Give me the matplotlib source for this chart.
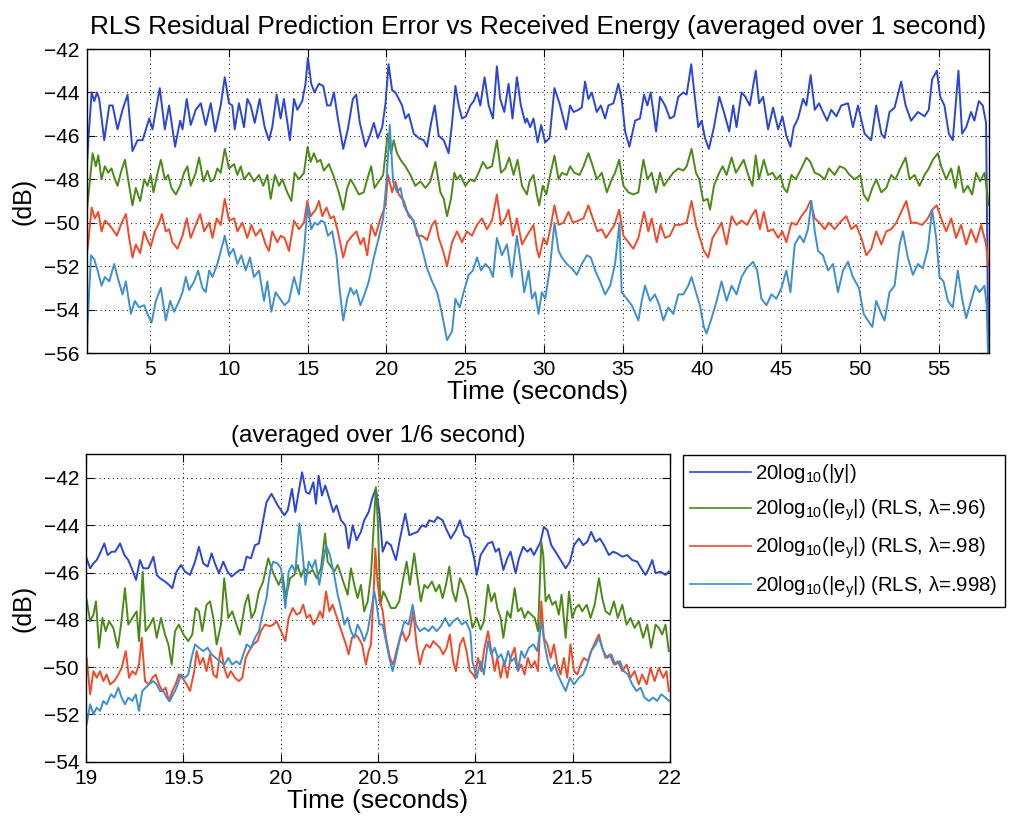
import numpy as np
import matplotlib
matplotlib.use("Agg")
import matplotlib.pyplot as plt

plt.rcParams["font.family"] = ["Liberation Sans", "DejaVu Sans"]
plt.rcParams["mathtext.fontset"] = "custom"
plt.rcParams["mathtext.rm"] = "Liberation Sans"
plt.rcParams["mathtext.it"] = "Liberation Sans:italic"

# ---------------- 1-second averages (time s, level dB) ----------------
top_y = [(1.00,-47.5),(1.10,-46.2),(1.31,-44.0),(1.48,-44.4),(1.65,-44.0),(1.79,-44.3),(2.11,-46.2),(2.43,-44.6),(2.64,-44.6),(2.95,-45.7),(3.27,-44.8),(3.59,-44.1),(3.90,-46.7),(4.22,-46.2),(4.54,-46.2),(4.75,-45.7),(4.96,-45.2),(5.17,-45.7),(5.63,-43.8),(5.95,-45.7),(6.22,-44.6),(6.60,-46.5),(6.92,-45.3),(7.07,-45.7),(7.34,-44.3),(7.59,-45.5),(7.91,-44.8),(8.23,-44.5),(8.54,-45.5),(8.86,-44.5),(9.14,-45.8),(9.49,-44.6),(9.75,-43.3),(10.02,-44.5),(10.23,-44.6),(10.38,-45.7),(10.65,-44.5),(10.97,-45.6),(11.18,-44.3),(11.39,-44.6),(11.65,-45.4),(11.96,-44.3),(12.28,-45.6),(12.55,-46.2),(12.76,-45.6),(13.04,-44.1),(13.29,-45.2),(13.50,-44.3),(13.88,-46.2),(14.14,-44.3),(14.35,-44.8),(14.66,-44.4),(14.87,-43.6),(15.02,-42.4),(15.23,-43.6),(15.44,-44.0),(15.72,-43.6),(15.99,-43.7),(16.24,-44.6),(16.45,-44.6),(16.67,-44.0),(16.92,-45.2),(17.26,-46.6),(17.55,-45.7),(17.87,-44.3),(18.08,-44.1),(18.31,-45.4),(18.67,-46.5),(18.94,-46.0),(19.20,-45.4),(19.45,-46.1),(19.73,-45.6),(19.94,-44.5),(20.13,-42.7),(20.36,-43.9),(20.57,-44.0),(20.78,-44.3),(20.99,-44.6),(21.20,-45.2),(21.41,-45.0),(21.73,-45.9),(22.05,-46.1),(22.36,-46.2),(22.57,-46.5),(22.83,-45.4),(23.06,-44.6),(23.31,-46.0),(23.63,-46.2),(23.94,-46.8),(24.16,-45.4),(24.37,-43.7),(24.58,-44.6),(24.79,-45.2),(25.04,-45.1),(25.32,-44.6),(25.53,-44.4),(25.74,-44.0),(25.95,-44.6),(26.22,-43.3),(26.48,-44.6),(26.75,-45.2),(27.00,-42.8),(27.21,-44.3),(27.47,-44.9),(27.74,-43.6),(27.99,-45.2),(28.27,-43.3),(28.52,-44.6),(28.80,-45.4),(28.90,-45.2),(29.11,-45.6),(29.32,-45.2),(29.58,-46.3),(29.81,-45.5),(30.06,-46.3),(30.34,-46.1),(30.65,-43.8),(30.97,-44.5),(31.39,-45.7),(31.64,-44.6),(31.86,-44.9),(32.17,-44.8),(32.38,-44.7),(32.59,-43.5),(32.80,-44.3),(33.02,-44.0),(33.33,-44.9),(33.59,-44.6),(33.86,-45.2),(34.07,-44.6),(34.39,-44.5),(34.70,-43.6),(34.91,-44.3),(35.13,-45.8),(35.40,-46.5),(35.76,-45.3),(36.07,-45.2),(36.33,-44.1),(36.54,-44.6),(36.75,-44.0),(37.09,-45.8),(37.34,-44.2),(37.66,-44.6),(37.97,-45.2),(38.23,-45.1),(38.50,-44.2),(38.82,-44.0),(39.03,-44.1),(39.32,-42.7),(39.56,-44.3),(39.77,-45.6),(39.98,-45.3),(40.19,-46.1),(40.44,-46.6),(40.76,-45.6),(41.10,-44.2),(41.39,-44.9),(41.73,-45.8),(41.98,-44.6),(42.19,-45.6),(42.51,-44.0),(42.75,-44.2),(43.03,-44.6),(43.41,-43.0),(43.62,-44.5),(43.88,-44.2),(44.19,-45.7),(44.51,-44.7),(44.83,-45.7),(45.10,-45.1),(45.35,-46.0),(45.61,-46.5),(45.82,-45.6),(46.09,-45.2),(46.41,-44.3),(46.62,-44.6),(46.89,-43.2),(47.15,-44.8),(47.42,-44.5),(47.67,-44.9),(47.93,-45.3),(48.20,-44.8),(48.52,-45.1),(48.83,-44.6),(49.26,-44.5),(49.57,-45.6),(49.89,-44.6),(50.31,-45.9),(50.73,-46.2),(51.05,-44.6),(51.37,-45.9),(51.58,-46.1),(51.89,-44.9),(52.21,-44.7),(52.63,-43.5),(52.91,-44.6),(53.26,-45.3),(53.69,-44.9),(54.11,-45.1),(54.38,-44.8),(54.59,-43.4),(54.89,-43.0),(55.10,-44.2),(55.37,-44.6),(55.65,-45.9),(55.90,-46.2),(56.26,-43.0),(56.49,-45.9),(56.75,-45.6),(57.06,-44.9),(57.27,-45.3),(57.55,-44.4),(57.80,-44.6),(58.01,-45.4),(58.15,-55.8)]

top_e96 = [(1.00,-49.5),(1.10,-48.8),(1.37,-46.8),(1.58,-47.4),(1.73,-46.9),(1.94,-48.0),(2.15,-47.4),(2.36,-47.7),(2.57,-47.5),(2.74,-47.9),(2.95,-48.3),(3.16,-47.7),(3.42,-47.1),(3.69,-48.3),(3.90,-49.2),(4.11,-48.4),(4.39,-49.0),(4.64,-48.0),(4.85,-48.3),(5.06,-47.8),(5.23,-48.6),(5.49,-47.7),(5.70,-47.1),(5.95,-48.0),(6.16,-47.8),(6.37,-48.4),(6.65,-48.7),(6.92,-48.3),(7.17,-47.7),(7.38,-47.4),(7.59,-48.3),(7.91,-47.7),(8.12,-47.0),(8.40,-48.1),(8.65,-47.6),(8.86,-48.1),(9.07,-48.0),(9.28,-47.5),(9.49,-47.7),(9.75,-46.6),(10.02,-47.5),(10.34,-47.3),(10.55,-47.8),(10.76,-47.4),(10.97,-48.0),(11.29,-47.7),(11.60,-48.1),(11.92,-47.8),(12.19,-48.3),(12.45,-47.8),(12.66,-48.9),(12.93,-47.8),(13.19,-48.3),(13.40,-48.0),(13.71,-48.6),(13.97,-49.0),(14.18,-47.7),(14.45,-48.0),(14.77,-47.7),(15.00,-46.5),(15.19,-47.2),(15.40,-46.8),(15.61,-47.2),(15.82,-47.1),(16.03,-47.6),(16.35,-47.3),(16.67,-47.9),(16.98,-48.6),(17.26,-49.4),(17.51,-48.4),(17.72,-48.0),(17.97,-48.3),(18.25,-48.7),(18.56,-48.6),(18.78,-48.0),(19.03,-47.4),(19.24,-48.4),(19.51,-48.1),(19.79,-47.8),(20.08,-45.9),(20.29,-46.8),(20.46,-46.2),(20.67,-46.8),(20.89,-47.1),(21.20,-47.4),(21.52,-47.8),(21.83,-48.3),(22.15,-48.1),(22.47,-48.4),(22.78,-48.1),(23.10,-47.2),(23.42,-48.6),(23.63,-48.9),(23.84,-49.7),(24.09,-48.9),(24.30,-47.7),(24.47,-48.0),(24.68,-47.8),(25.00,-48.3),(25.32,-48.0),(25.57,-48.1),(25.84,-47.7),(26.12,-47.2),(26.37,-47.5),(26.69,-47.4),(27.00,-46.2),(27.26,-47.7),(27.53,-47.5),(27.78,-47.0),(28.06,-47.8),(28.31,-47.1),(28.59,-48.3),(28.90,-48.7),(29.07,-48.1),(29.32,-47.8),(29.53,-48.7),(29.68,-49.2),(29.91,-48.3),(30.13,-48.7),(30.38,-47.8),(30.65,-46.9),(30.91,-48.0),(31.12,-47.7),(31.43,-47.8),(31.64,-47.4),(31.90,-47.7),(32.24,-47.8),(32.49,-47.4),(32.80,-46.8),(33.08,-47.4),(33.33,-48.0),(33.65,-47.7),(33.97,-48.6),(34.28,-48.0),(34.49,-47.7),(34.75,-47.1),(35.02,-48.3),(35.34,-48.6),(35.65,-48.7),(35.97,-48.6),(36.29,-47.1),(36.54,-48.0),(36.81,-47.7),(37.09,-48.6),(37.34,-47.7),(37.59,-48.3),(37.87,-48.0),(38.18,-47.7),(38.50,-47.5),(38.82,-47.6),(39.03,-47.4),(39.34,-46.6),(39.62,-47.7),(39.83,-48.0),(40.08,-49.0),(40.36,-48.9),(40.51,-49.4),(40.76,-48.3),(41.03,-47.8),(41.31,-47.4),(41.56,-47.8),(41.88,-47.0),(42.15,-47.7),(42.40,-47.4),(42.65,-47.1),(42.93,-47.8),(43.20,-48.3),(43.41,-46.9),(43.62,-48.0),(43.92,-47.1),(44.19,-47.8),(44.47,-47.7),(44.72,-48.0),(44.97,-47.8),(45.18,-48.4),(45.40,-48.6),(45.67,-47.8),(45.94,-48.0),(46.30,-47.5),(46.62,-47.0),(46.87,-47.2),(47.15,-47.7),(47.46,-47.8),(47.78,-48.0),(48.05,-47.5),(48.41,-47.8),(48.73,-47.4),(49.05,-47.5),(49.36,-47.8),(49.68,-48.0),(50.04,-47.8),(50.25,-48.7),(50.52,-49.0),(50.80,-48.4),(51.05,-48.0),(51.37,-48.6),(51.68,-48.4),(52.00,-47.8),(52.27,-48.0),(52.57,-47.5),(52.91,-47.0),(53.16,-48.0),(53.48,-47.8),(53.79,-48.3),(54.11,-47.8),(54.38,-47.5),(54.64,-47.1),(54.95,-46.8),(55.16,-47.4),(55.48,-48.0),(55.80,-47.5),(56.07,-48.4),(56.28,-47.4),(56.58,-48.6),(56.85,-48.3),(57.13,-48.7),(57.38,-47.7),(57.63,-48.1),(57.91,-47.7),(58.08,-48.6),(58.15,-49.2)]

top_e98 = [(1.00,-51.5),(1.10,-50.9),(1.31,-49.3),(1.52,-49.8),(1.73,-49.5),(1.94,-50.4),(2.15,-49.9),(2.43,-50.1),(2.64,-50.3),(2.91,-50.6),(3.16,-50.1),(3.48,-49.6),(3.69,-50.7),(3.90,-51.6),(4.11,-51.0),(4.39,-51.4),(4.64,-50.4),(4.85,-50.8),(5.06,-51.1),(5.32,-50.4),(5.59,-50.0),(5.76,-49.6),(6.01,-50.4),(6.22,-50.3),(6.43,-50.9),(6.75,-51.2),(7.07,-50.6),(7.34,-49.8),(7.59,-50.7),(7.91,-50.1),(8.19,-49.6),(8.44,-50.4),(8.76,-50.0),(8.97,-50.7),(9.24,-49.8),(9.49,-50.1),(9.75,-48.9),(10.02,-49.9),(10.34,-49.8),(10.55,-50.4),(10.86,-50.0),(11.18,-50.7),(11.43,-50.1),(11.71,-50.6),(12.03,-50.3),(12.34,-51.0),(12.55,-51.3),(12.76,-50.4),(13.08,-50.9),(13.29,-50.6),(13.54,-50.7),(13.82,-51.3),(14.14,-49.9),(14.45,-50.3),(14.77,-50.0),(14.98,-49.0),(15.19,-49.7),(15.51,-49.4),(15.72,-49.0),(15.93,-49.7),(16.20,-49.3),(16.45,-49.8),(16.67,-49.7),(16.92,-50.4),(17.26,-51.6),(17.51,-50.9),(17.83,-50.6),(18.10,-50.4),(18.35,-51.0),(18.56,-50.7),(18.78,-51.5),(19.03,-50.1),(19.30,-50.6),(19.62,-49.8),(19.94,-49.2),(20.10,-47.8),(20.36,-48.6),(20.57,-48.1),(20.78,-48.7),(21.10,-49.0),(21.41,-49.7),(21.73,-49.9),(21.94,-50.6),(22.26,-50.6),(22.57,-50.8),(22.89,-50.1),(23.10,-49.9),(23.31,-50.7),(23.59,-51.3),(23.84,-52.0),(24.16,-50.9),(24.47,-50.4),(24.79,-50.9),(25.10,-50.4),(25.42,-50.6),(25.74,-50.1),(26.05,-49.8),(26.37,-50.3),(26.69,-49.9),(27.00,-48.7),(27.26,-50.1),(27.53,-49.8),(27.74,-49.4),(28.02,-50.6),(28.27,-49.8),(28.59,-51.0),(28.90,-50.6),(29.07,-50.4),(29.32,-50.1),(29.53,-51.2),(29.68,-51.6),(29.96,-50.7),(30.17,-51.0),(30.38,-50.3),(30.65,-49.2),(30.91,-50.1),(31.22,-50.0),(31.54,-49.5),(31.81,-50.0),(32.17,-49.9),(32.49,-49.8),(32.80,-49.2),(33.08,-49.8),(33.37,-50.4),(33.65,-50.3),(33.92,-50.7),(34.18,-50.4),(34.45,-50.1),(34.75,-49.4),(35.02,-50.6),(35.34,-50.9),(35.65,-51.2),(35.97,-50.7),(36.33,-49.5),(36.60,-50.4),(36.81,-49.8),(37.13,-50.9),(37.38,-50.1),(37.66,-50.7),(37.97,-50.6),(38.29,-50.1),(38.61,-50.1),(39.03,-50.0),(39.34,-49.0),(39.62,-50.1),(39.87,-50.7),(40.12,-51.3),(40.40,-51.6),(40.67,-50.7),(40.93,-50.4),(41.24,-50.0),(41.56,-51.0),(41.88,-49.7),(42.19,-50.1),(42.51,-49.9),(42.86,-50.1),(43.14,-49.7),(43.41,-49.4),(43.67,-50.3),(43.92,-49.5),(44.19,-50.4),(44.51,-50.3),(44.83,-50.7),(45.10,-50.4),(45.35,-50.9),(45.67,-50.0),(45.99,-50.1),(46.30,-49.7),(46.62,-49.4),(46.87,-49.0),(47.15,-49.8),(47.46,-50.0),(47.78,-50.3),(48.05,-50.0),(48.41,-50.3),(48.73,-50.0),(49.15,-49.7),(49.47,-50.3),(49.78,-50.1),(50.10,-50.7),(50.42,-51.5),(50.73,-51.2),(51.05,-50.4),(51.37,-51.0),(51.68,-50.4),(52.00,-50.3),(52.32,-50.0),(52.63,-49.5),(52.95,-49.0),(53.26,-50.0),(53.58,-50.0),(53.96,-50.1),(54.32,-49.8),(54.59,-49.4),(54.89,-49.2),(55.16,-49.8),(55.48,-50.4),(55.80,-49.8),(56.11,-50.7),(56.43,-50.1),(56.75,-51.0),(57.06,-50.3),(57.38,-50.9),(57.70,-50.1),(58.01,-51.0),(58.15,-52.0)]

top_e998 = [(1.00,-57.0),(1.05,-54.7),(1.27,-51.5),(1.48,-51.7),(1.69,-52.2),(1.94,-52.9),(2.15,-52.5),(2.43,-52.7),(2.74,-51.9),(2.99,-52.6),(3.27,-53.3),(3.48,-52.7),(3.80,-54.2),(4.05,-53.6),(4.32,-53.9),(4.64,-53.8),(4.85,-54.2),(5.11,-54.6),(5.38,-53.6),(5.70,-53.0),(6.01,-54.5),(6.29,-53.6),(6.54,-54.1),(6.86,-53.6),(7.07,-53.2),(7.28,-52.5),(7.49,-53.1),(7.81,-52.7),(8.06,-52.2),(8.33,-53.0),(8.54,-53.2),(8.76,-52.2),(8.97,-52.5),(9.28,-51.9),(9.75,-50.6),(10.02,-51.5),(10.30,-51.2),(10.55,-51.9),(10.80,-51.5),(11.08,-52.2),(11.35,-51.6),(11.60,-52.5),(11.92,-52.2),(12.24,-53.6),(12.45,-52.7),(12.70,-54.1),(12.97,-53.2),(13.25,-53.5),(13.54,-53.8),(13.82,-53.6),(14.14,-52.5),(14.45,-53.3),(14.77,-51.3),(15.00,-49.2),(15.23,-50.3),(15.44,-50.0),(15.65,-50.1),(15.86,-49.9),(16.08,-50.0),(16.29,-50.6),(16.56,-50.4),(16.83,-51.5),(17.05,-53.2),(17.26,-54.5),(17.51,-53.5),(17.72,-53.0),(17.93,-53.3),(18.10,-53.1),(18.35,-53.8),(18.61,-53.3),(18.88,-52.7),(19.20,-51.6),(19.51,-50.7),(19.79,-49.8),(20.00,-48.1),(20.21,-45.5),(20.42,-48.1),(20.67,-48.6),(20.89,-48.4),(21.10,-49.2),(21.31,-49.5),(21.62,-49.8),(21.94,-50.4),(22.26,-51.2),(22.57,-52.1),(22.89,-52.7),(23.21,-53.2),(23.52,-54.2),(23.84,-55.4),(24.16,-55.0),(24.37,-53.5),(24.64,-53.9),(24.89,-53.2),(25.21,-52.4),(25.48,-52.2),(25.74,-51.6),(25.99,-52.2),(26.27,-51.9),(26.54,-52.1),(26.75,-52.5),(27.00,-50.7),(27.32,-51.5),(27.64,-51.0),(27.95,-52.5),(28.27,-50.6),(28.52,-51.9),(28.73,-53.2),(29.01,-52.2),(29.22,-53.5),(29.43,-53.2),(29.64,-54.2),(29.85,-53.2),(30.06,-53.5),(30.34,-52.2),(30.65,-50.0),(30.91,-51.3),(31.12,-51.6),(31.43,-51.9),(31.75,-52.1),(32.07,-52.4),(32.38,-51.9),(32.70,-51.5),(32.95,-51.6),(33.23,-52.2),(33.54,-52.7),(33.86,-53.3),(34.18,-52.9),(34.49,-51.9),(34.77,-50.0),(34.91,-53.2),(35.23,-53.5),(35.55,-53.8),(35.97,-54.5),(36.18,-53.6),(36.39,-52.9),(36.71,-53.6),(37.02,-53.3),(37.30,-53.8),(37.55,-54.5),(37.87,-53.9),(38.18,-54.2),(38.50,-53.3),(38.82,-53.3),(39.13,-52.9),(39.34,-52.5),(39.66,-53.3),(39.87,-53.8),(40.12,-54.8),(40.29,-55.1),(40.61,-54.4),(40.93,-53.6),(41.24,-52.7),(41.56,-53.6),(41.88,-52.9),(42.19,-53.3),(42.51,-52.5),(42.83,-52.1),(43.24,-51.8),(43.50,-52.2),(43.77,-53.5),(44.09,-53.8),(44.40,-53.3),(44.72,-53.5),(45.04,-53.0),(45.35,-52.2),(45.61,-53.2),(45.88,-51.0),(46.20,-50.6),(46.45,-50.9),(46.72,-50.3),(46.94,-49.0),(47.15,-50.4),(47.36,-51.3),(47.67,-51.5),(47.99,-52.2),(48.31,-51.9),(48.62,-53.2),(48.94,-52.2),(49.26,-51.8),(49.57,-52.5),(49.95,-53.0),(50.25,-54.2),(50.52,-54.5),(50.80,-54.8),(51.05,-53.6),(51.37,-54.2),(51.58,-54.5),(51.89,-53.2),(52.21,-52.9),(52.53,-51.0),(52.74,-50.4),(53.05,-51.6),(53.37,-52.4),(53.69,-51.9),(54.00,-52.1),(54.32,-51.2),(54.59,-49.4),(54.85,-50.7),(55.06,-52.5),(55.31,-52.7),(55.59,-53.6),(55.90,-53.9),(56.22,-52.2),(56.49,-53.5),(56.75,-54.4),(57.06,-53.6),(57.34,-52.9),(57.59,-53.2),(57.91,-52.9),(58.05,-53.8),(58.15,-56.5)]

# ---------------- 1/6-second averages, 19 s to 22 s ----------------
bot_y = [(19.003,-45.40),(19.021,-45.82),(19.038,-45.61),(19.055,-45.47),(19.072,-45.19),(19.094,-44.77),(19.111,-45.26),(19.132,-45.12),(19.149,-45.12),(19.175,-44.77),(19.197,-45.26),(19.217,-45.47),(19.238,-45.89),(19.257,-46.31),(19.277,-45.47),(19.294,-45.82),(19.320,-45.82),(19.346,-45.33),(19.363,-46.10),(19.380,-46.24),(19.406,-46.38),(19.426,-46.52),(19.443,-46.66),(19.465,-45.96),(19.488,-45.68),(19.508,-45.96),(19.534,-46.10),(19.560,-45.54),(19.580,-44.91),(19.602,-45.61),(19.625,-45.75),(19.645,-45.19),(19.662,-45.61),(19.683,-46.03),(19.705,-45.54),(19.727,-45.96),(19.748,-46.17),(19.768,-46.03),(19.791,-45.89),(19.808,-45.89),(19.825,-45.33),(19.847,-45.40),(19.868,-44.84),(19.888,-44.77),(19.905,-44.00),(19.927,-43.02),(19.953,-42.67),(19.985,-43.16),(20.019,-43.58),(20.036,-43.37),(20.058,-42.46),(20.075,-43.44),(20.092,-42.60),(20.110,-41.76),(20.130,-42.60),(20.147,-42.67),(20.168,-42.18),(20.181,-43.09),(20.195,-41.90),(20.212,-42.74),(20.229,-42.32),(20.250,-42.88),(20.270,-43.44),(20.287,-43.16),(20.310,-43.79),(20.332,-44.00),(20.349,-44.98),(20.370,-44.00),(20.390,-44.63),(20.412,-44.28),(20.429,-43.79),(20.452,-43.44),(20.472,-42.81),(20.489,-42.46),(20.507,-43.44),(20.524,-45.12),(20.544,-44.70),(20.566,-44.84),(20.592,-45.47),(20.613,-44.56),(20.640,-43.51),(20.661,-44.42),(20.681,-44.35),(20.703,-44.28),(20.726,-44.00),(20.746,-44.07),(20.763,-43.79),(20.789,-43.86),(20.806,-43.65),(20.832,-43.79),(20.849,-44.14),(20.874,-44.56),(20.900,-44.21),(20.921,-43.79),(20.943,-44.42),(20.969,-44.56),(20.994,-45.40),(21.007,-46.10),(21.027,-45.26),(21.048,-44.98),(21.065,-44.77),(21.087,-44.70),(21.104,-45.12),(21.121,-44.98),(21.144,-45.89),(21.164,-45.40),(21.181,-45.12),(21.207,-46.03),(21.224,-45.40),(21.246,-44.91),(21.267,-45.12),(21.284,-44.98),(21.301,-45.26),(21.318,-44.98),(21.335,-44.70),(21.352,-44.07),(21.370,-44.21),(21.390,-44.84),(21.412,-45.12),(21.438,-45.47),(21.464,-45.82),(21.486,-45.54),(21.507,-44.84),(21.532,-44.56),(21.554,-44.84),(21.575,-44.70),(21.595,-44.28),(21.618,-44.70),(21.640,-44.56),(21.661,-44.84),(21.686,-45.26),(21.708,-45.12),(21.729,-45.19),(21.755,-45.33),(21.780,-45.26),(21.806,-45.47),(21.832,-45.54),(21.857,-45.89),(21.874,-46.10),(21.892,-45.82),(21.909,-45.47),(21.926,-46.03),(21.951,-45.96),(21.977,-46.10),(21.994,-45.96)]

bot_e96 = [(19.003,-47.15),(19.021,-48.06),(19.038,-47.78),(19.051,-47.22),(19.067,-49.18),(19.084,-47.92),(19.101,-48.48),(19.118,-48.06),(19.140,-48.34),(19.163,-49.18),(19.180,-48.20),(19.200,-46.66),(19.217,-48.20),(19.238,-47.92),(19.260,-47.64),(19.272,-48.90),(19.291,-45.96),(19.306,-48.48),(19.329,-48.20),(19.346,-47.92),(19.363,-48.76),(19.385,-47.92),(19.406,-48.62),(19.423,-49.04),(19.440,-49.89),(19.457,-48.48),(19.477,-48.20),(19.500,-48.62),(19.525,-48.90),(19.546,-48.62),(19.563,-47.50),(19.580,-47.64),(19.597,-48.48),(19.619,-47.36),(19.637,-47.22),(19.654,-47.92),(19.671,-49.04),(19.693,-48.20),(19.710,-46.24),(19.731,-47.92),(19.751,-47.64),(19.773,-48.20),(19.791,-48.62),(19.816,-47.36),(19.833,-46.94),(19.850,-47.92),(19.868,-47.64),(19.888,-46.80),(19.910,-46.38),(19.936,-45.40),(19.962,-46.03),(19.990,-46.52),(20.010,-46.10),(20.027,-47.08),(20.048,-46.24),(20.070,-46.10),(20.087,-45.68),(20.104,-46.17),(20.121,-45.82),(20.144,-46.03),(20.164,-45.89),(20.185,-46.24),(20.207,-45.82),(20.228,-44.35),(20.241,-45.54),(20.258,-45.75),(20.275,-45.96),(20.293,-45.68),(20.310,-46.10),(20.327,-46.52),(20.344,-46.94),(20.361,-45.82),(20.378,-46.52),(20.395,-47.08),(20.412,-46.52),(20.429,-47.64),(20.447,-47.22),(20.464,-46.10),(20.477,-44.14),(20.489,-42.39),(20.500,-44.00),(20.512,-47.36),(20.527,-46.80),(20.544,-47.08),(20.566,-47.50),(20.589,-47.50),(20.609,-47.22),(20.630,-46.24),(20.647,-45.54),(20.664,-46.52),(20.686,-45.19),(20.703,-46.24),(20.720,-47.22),(20.738,-46.52),(20.755,-46.66),(20.777,-46.38),(20.797,-46.80),(20.815,-46.52),(20.832,-47.08),(20.849,-46.52),(20.866,-45.75),(20.883,-46.80),(20.900,-47.22),(20.921,-46.24),(20.938,-46.52),(20.960,-47.08),(20.977,-47.92),(20.985,-48.34),(21.007,-47.92),(21.027,-48.41),(21.044,-48.06),(21.065,-46.52),(21.082,-47.22),(21.099,-46.87),(21.113,-47.50),(21.130,-47.92),(21.144,-48.76),(21.164,-47.64),(21.181,-47.92),(21.202,-46.66),(21.219,-47.64),(21.236,-47.50),(21.253,-47.92),(21.270,-47.64),(21.287,-47.78),(21.305,-47.92),(21.322,-48.48),(21.339,-44.70),(21.349,-45.26),(21.361,-47.22),(21.378,-46.94),(21.395,-47.36),(21.412,-47.22),(21.429,-47.78),(21.443,-46.94),(21.464,-48.76),(21.481,-46.80),(21.498,-47.92),(21.515,-47.50),(21.532,-47.36),(21.549,-47.64),(21.572,-47.36),(21.592,-47.92),(21.613,-47.36),(21.635,-46.24),(21.652,-47.08),(21.669,-47.64),(21.691,-47.78),(21.712,-47.22),(21.732,-47.92),(21.755,-47.36),(21.777,-48.20),(21.797,-47.92),(21.818,-48.34),(21.840,-48.06),(21.862,-48.76),(21.883,-48.20),(21.903,-49.18),(21.926,-48.20),(21.943,-48.34),(21.960,-48.62),(21.977,-48.20),(21.994,-49.32)]

bot_e98 = [(19.003,-49.61),(19.021,-51.15),(19.038,-50.17),(19.055,-50.45),(19.072,-50.17),(19.089,-50.59),(19.106,-50.31),(19.123,-50.73),(19.145,-50.59),(19.166,-50.31),(19.183,-50.03),(19.204,-49.32),(19.221,-50.45),(19.238,-50.17),(19.255,-50.31),(19.272,-49.89),(19.286,-48.76),(19.303,-50.59),(19.323,-50.73),(19.341,-50.45),(19.358,-50.31),(19.375,-50.73),(19.392,-51.01),(19.409,-50.87),(19.426,-51.43),(19.443,-51.01),(19.460,-50.73),(19.477,-50.31),(19.495,-50.45),(19.517,-50.73),(19.534,-51.01),(19.556,-50.17),(19.568,-49.32),(19.585,-49.89),(19.602,-49.61),(19.619,-50.17),(19.637,-49.46),(19.654,-50.31),(19.671,-50.45),(19.693,-49.18),(19.710,-50.03),(19.727,-50.45),(19.744,-50.17),(19.765,-50.45),(19.785,-50.59),(19.803,-50.45),(19.820,-49.61),(19.837,-49.32),(19.859,-49.04),(19.881,-48.90),(19.898,-48.48),(19.919,-48.20),(19.945,-48.27),(19.962,-48.20),(19.979,-48.06),(20.002,-48.48),(20.024,-48.90),(20.041,-47.92),(20.062,-47.50),(20.082,-47.78),(20.099,-47.71),(20.116,-47.36),(20.133,-47.92),(20.151,-47.78),(20.168,-48.20),(20.185,-47.99),(20.202,-47.64),(20.216,-47.92),(20.233,-46.80),(20.250,-47.64),(20.267,-47.36),(20.284,-47.78),(20.301,-48.20),(20.318,-48.62),(20.335,-49.04),(20.349,-49.46),(20.366,-48.76),(20.383,-48.62),(20.400,-48.76),(20.418,-49.04),(20.438,-49.89),(20.452,-49.32),(20.464,-49.04),(20.477,-46.94),(20.486,-44.98),(20.496,-46.24),(20.507,-47.08),(20.524,-47.64),(20.541,-48.76),(20.561,-49.61),(20.578,-49.89),(20.595,-49.32),(20.613,-48.76),(20.626,-48.48),(20.643,-48.90),(20.661,-48.62),(20.681,-47.64),(20.698,-49.04),(20.715,-49.89),(20.732,-49.32),(20.749,-49.04),(20.767,-49.18),(20.784,-48.90),(20.801,-49.04),(20.818,-49.18),(20.835,-49.46),(20.852,-49.18),(20.869,-48.62),(20.886,-49.75),(20.900,-50.17),(20.921,-49.04),(20.938,-48.76),(20.955,-49.32),(20.972,-50.17),(20.989,-50.31),(20.997,-50.45),(21.014,-49.61),(21.031,-50.17),(21.044,-49.32),(21.065,-48.48),(21.082,-49.32),(21.099,-50.17),(21.113,-49.61),(21.130,-50.45),(21.147,-49.75),(21.164,-50.45),(21.181,-49.61),(21.202,-49.18),(21.219,-50.17),(21.236,-49.89),(21.253,-50.31),(21.270,-49.61),(21.287,-50.03),(21.305,-49.75),(21.322,-50.17),(21.339,-47.22),(21.352,-48.76),(21.370,-49.04),(21.387,-49.61),(21.404,-49.04),(21.421,-49.89),(21.438,-50.31),(21.455,-49.61),(21.472,-50.45),(21.489,-49.04),(21.507,-50.17),(21.524,-50.31),(21.541,-49.89),(21.558,-49.61),(21.578,-49.75),(21.595,-49.32),(21.618,-48.90),(21.635,-48.62),(21.652,-49.18),(21.669,-49.61),(21.691,-49.46),(21.712,-49.89),(21.732,-49.75),(21.755,-50.17),(21.777,-49.89),(21.797,-50.45),(21.818,-50.17),(21.840,-50.73),(21.857,-50.31),(21.880,-50.73),(21.900,-50.03),(21.921,-50.59),(21.943,-50.03),(21.965,-50.45),(21.982,-50.17),(21.994,-51.01)]

bot_e998 = [(19.003,-52.41),(19.021,-51.57),(19.038,-51.99),(19.055,-51.71),(19.072,-51.85),(19.089,-51.43),(19.106,-51.57),(19.128,-51.15),(19.145,-51.29),(19.166,-50.87),(19.183,-51.29),(19.200,-51.57),(19.217,-51.29),(19.238,-51.43),(19.255,-51.15),(19.272,-51.85),(19.289,-51.01),(19.306,-50.87),(19.323,-50.73),(19.346,-50.59),(19.363,-50.73),(19.380,-51.01),(19.397,-51.01),(19.414,-51.29),(19.431,-51.43),(19.448,-51.15),(19.465,-50.87),(19.488,-50.31),(19.508,-50.45),(19.525,-50.31),(19.542,-49.61),(19.560,-49.04),(19.580,-49.18),(19.602,-49.32),(19.625,-49.18),(19.645,-49.46),(19.666,-49.61),(19.688,-49.75),(19.710,-49.89),(19.731,-49.61),(19.751,-49.89),(19.773,-49.75),(19.791,-49.89),(19.808,-49.46),(19.825,-49.04),(19.847,-49.18),(19.868,-48.76),(19.888,-48.48),(19.910,-47.64),(19.927,-47.08),(19.945,-45.96),(19.962,-45.54),(19.983,-45.61),(20.002,-45.82),(20.024,-47.50),(20.041,-45.96),(20.058,-45.68),(20.075,-45.96),(20.096,-43.93),(20.110,-44.98),(20.127,-46.52),(20.144,-45.54),(20.161,-45.82),(20.178,-45.47),(20.198,-46.52),(20.216,-45.68),(20.233,-44.84),(20.253,-45.26),(20.275,-46.10),(20.293,-46.94),(20.310,-47.50),(20.327,-48.20),(20.344,-47.92),(20.361,-48.48),(20.378,-48.76),(20.395,-48.20),(20.412,-48.48),(20.429,-48.90),(20.447,-48.48),(20.464,-47.64),(20.481,-46.80),(20.493,-47.36),(20.507,-48.20),(20.524,-48.20),(20.541,-48.90),(20.558,-49.61),(20.575,-50.17),(20.592,-49.61),(20.613,-48.76),(20.635,-48.06),(20.657,-48.20),(20.678,-47.36),(20.695,-48.20),(20.715,-48.48),(20.738,-48.34),(20.760,-48.48),(20.780,-48.27),(20.801,-48.48),(20.823,-48.27),(20.845,-47.92),(20.866,-48.27),(20.886,-48.06),(20.909,-47.92),(20.931,-48.20),(20.951,-48.06),(20.974,-48.48),(20.985,-49.75),(21.007,-50.45),(21.027,-49.75),(21.044,-50.31),(21.065,-48.90),(21.082,-49.46),(21.099,-49.18),(21.116,-49.61),(21.133,-49.46),(21.151,-49.89),(21.168,-49.32),(21.185,-49.75),(21.202,-49.61),(21.219,-50.17),(21.236,-49.32),(21.253,-49.61),(21.275,-49.18),(21.298,-49.04),(21.318,-49.32),(21.339,-48.06),(21.356,-49.04),(21.373,-49.75),(21.390,-50.17),(21.407,-49.89),(21.424,-50.31),(21.447,-50.73),(21.464,-51.01),(21.486,-50.45),(21.507,-50.73),(21.532,-50.45),(21.554,-50.31),(21.575,-49.89),(21.595,-49.32),(21.618,-49.04),(21.635,-48.76),(21.657,-49.32),(21.678,-49.61),(21.698,-49.46),(21.720,-49.89),(21.743,-49.75),(21.763,-50.17),(21.784,-50.31),(21.806,-50.73),(21.828,-51.01),(21.849,-50.87),(21.869,-51.29),(21.892,-51.43),(21.914,-51.29),(21.934,-51.43),(21.955,-51.15),(21.977,-51.29),(21.994,-51.43)]

series_labels = [r"20log$_{10}$(|y|)",
                 r"20log$_{10}$(|e$_{\mathrm{y}}$|) (RLS, λ=.96)",
                 r"20log$_{10}$(|e$_{\mathrm{y}}$|) (RLS, λ=.98)",
                 r"20log$_{10}$(|e$_{\mathrm{y}}$|) (RLS, λ=.998)"]
series_colors = ["#2b45d6", "#4c8a18", "#f24a28", "#3d8fd0"]

top_xticks = [5, 10, 15, 20, 25, 30, 35, 40, 45, 50, 55]
top_yticks = [-56, -54, -52, -50, -48, -46, -44, -42]
bot_xticks = [19, 19.5, 20, 20.5, 21, 21.5, 22]
bot_xticklabels = ["19", "19.5", "20", "20.5", "21", "21.5", "22"]
bot_yticks = [-54, -52, -50, -48, -46, -44, -42]

fig = plt.figure(figsize=(10.11, 8.25), dpi=100)
ax1 = fig.add_axes([0.0858, 0.5721, 0.8925, 0.3685])
ax2 = fig.add_axes([0.0851, 0.0767, 0.5776, 0.3726])


def style(ax):
    ax.grid(True, color="k", linestyle=(0, (1, 3.5)), linewidth=0.7)
    ax.set_axisbelow(True)
    ax.tick_params(direction="in", length=6, width=0.8, top=True, right=True,
                   labelsize=15, pad=5)
    for s in ax.spines.values():
        s.set_linewidth(1.0)


for data, c in zip([top_y, top_e96, top_e98, top_e998], series_colors):
    t, v = np.array(data).T
    ax1.plot(t, v, color=c, lw=1.4)
ax1.set_xlim(1, 58.2)
ax1.set_ylim(-56, -42)
ax1.set_xticks(top_xticks)
ax1.set_yticks(top_yticks)
style(ax1)
ax1.set_title("RLS Residual Prediction Error vs Received Energy (averaged over 1 second)",
              fontsize=18.9, pad=11)
ax1.set_xlabel("Time (seconds)", fontsize=19, labelpad=1)
ax1.set_ylabel("(dB)", fontsize=18, labelpad=6)

lines = []
for data, c, lab in zip([bot_y, bot_e96, bot_e98, bot_e998], series_colors, series_labels):
    t, v = np.array(data).T
    ln, = ax2.plot(t, v, color=c, lw=1.4, label=lab)
    lines.append(ln)
ax2.set_xlim(19, 22)
ax2.set_ylim(-54, -41)
ax2.set_xticks(bot_xticks)
ax2.set_xticklabels(bot_xticklabels)
ax2.set_yticks(bot_yticks)
style(ax2)
ax2.set_title("(averaged over 1/6 second)", fontsize=17.4, pad=9)
ax2.set_xlabel("Time (seconds)", fontsize=19, labelpad=1)
ax2.set_ylabel("(dB)", fontsize=18, labelpad=6)

leg = fig.legend(handles=lines, loc="upper left",
                 bbox_to_anchor=(683 / 1011, 1 - 455 / 825),
                 bbox_transform=fig.transFigure, borderaxespad=0,
                 fontsize=14.7, handlelength=3.0, handletextpad=0.2,
                 labelspacing=0.62, borderpad=0.35, fancybox=False,
                 edgecolor="k", framealpha=1)
leg.get_frame().set_linewidth(1.0)
for h in leg.legend_handles:
    h.set_linewidth(1.2)

fig.savefig("out.png", dpi=100)
